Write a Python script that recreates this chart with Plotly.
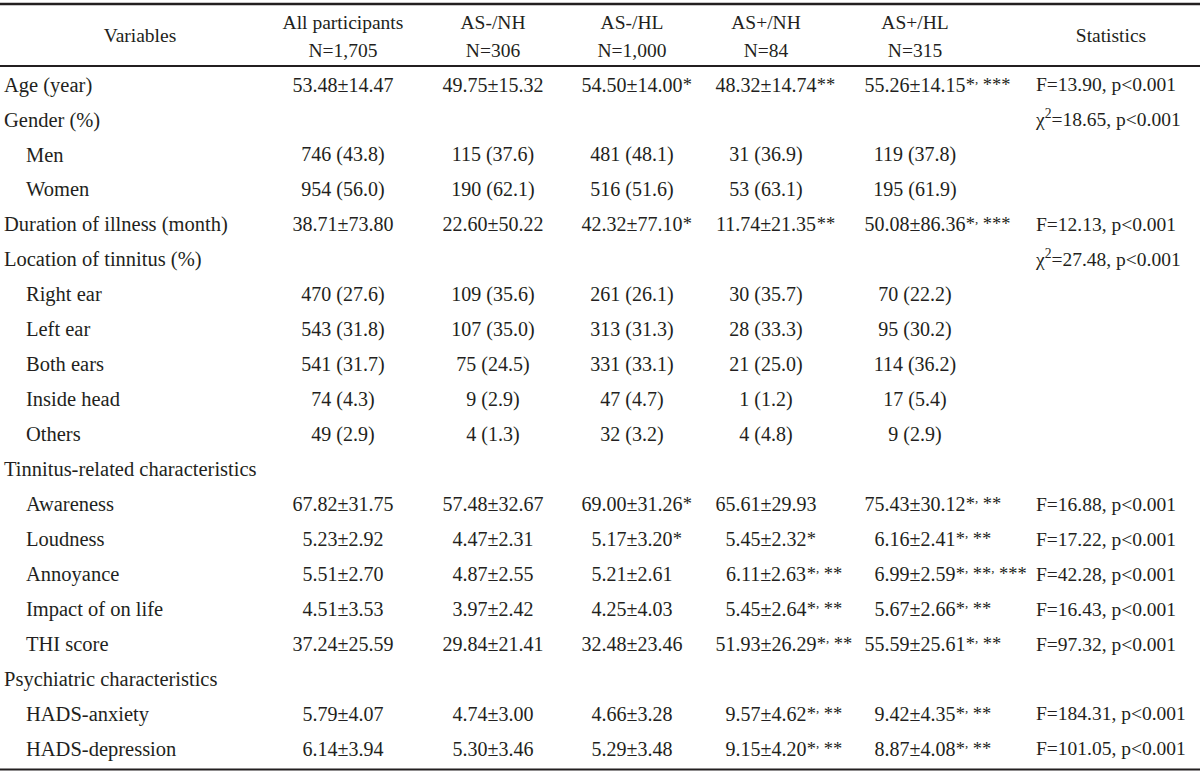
import plotly.graph_objects as go

# ---------------- data ----------------
variables = ["Age (year)", "Gender (%)", "Men", "Women", "Duration of illness (month)",
             "Location of tinnitus (%)", "Right ear", "Left ear", "Both ears", "Inside head",
             "Others", "Tinnitus-related characteristics", "Awareness", "Loudness",
             "Annoyance", "Impact of on life", "THI score", "Psychiatric characteristics",
             "HADS-anxiety", "HADS-depression"]
indent = [0, 0, 1, 1, 0, 0, 1, 1, 1, 1, 1, 0, 1, 1, 1, 1, 1, 0, 1, 1]

header_names = ["All participants", "AS-/NH", "AS-/HL", "AS+/NH", "AS+/HL"]
header_ns = ["N=1,705", "N=306", "N=1,000", "N=84", "N=315"]

all_participants = ["53.48±14.47", "", "746 (43.8)", "954 (56.0)", "38.71±73.80", "",
                    "470 (27.6)", "543 (31.8)", "541 (31.7)", "74 (4.3)", "49 (2.9)", "",
                    "67.82±31.75", "5.23±2.92", "5.51±2.70", "4.51±3.53", "37.24±25.59", "",
                    "5.79±4.07", "6.14±3.94"]
as_neg_nh = ["49.75±15.32", "", "115 (37.6)", "190 (62.1)", "22.60±50.22", "",
             "109 (35.6)", "107 (35.0)", "75 (24.5)", "9 (2.9)", "4 (1.3)", "",
             "57.48±32.67", "4.47±2.31", "4.87±2.55", "3.97±2.42", "29.84±21.41", "",
             "4.74±3.00", "5.30±3.46"]
as_neg_hl = ["54.50±14.00", "", "481 (48.1)", "516 (51.6)", "42.32±77.10", "",
             "261 (26.1)", "313 (31.3)", "331 (33.1)", "47 (4.7)", "32 (3.2)", "",
             "69.00±31.26", "5.17±3.20", "5.21±2.61", "4.25±4.03", "32.48±23.46", "",
             "4.66±3.28", "5.29±3.48"]
as_neg_hl_sig = ["*", "", "", "", "*", "", "", "", "", "", "", "",
                 "*", "*", "", "", "", "", "", ""]
as_pos_nh = ["48.32±14.74", "", "31 (36.9)", "53 (63.1)", "11.74±21.35", "",
             "30 (35.7)", "28 (33.3)", "21 (25.0)", "1 (1.2)", "4 (4.8)", "",
             "65.61±29.93", "5.45±2.32", "6.11±2.63", "5.45±2.64", "51.93±26.29", "",
             "9.57±4.62", "9.15±4.20"]
as_pos_nh_sig = ["**", "", "", "", "**", "", "", "", "", "", "", "",
                 "", "*", "*, **", "*, **", "*, **", "", "*, **", "*, **"]
as_pos_hl = ["55.26±14.15", "", "119 (37.8)", "195 (61.9)", "50.08±86.36", "",
             "70 (22.2)", "95 (30.2)", "114 (36.2)", "17 (5.4)", "9 (2.9)", "",
             "75.43±30.12", "6.16±2.41", "6.99±2.59", "5.67±2.66", "55.59±25.61", "",
             "9.42±4.35", "8.87±4.08"]
as_pos_hl_sig = ["*, ***", "", "", "", "*, ***", "", "", "", "", "", "", "",
                 "*, **", "*, **", "*, **, ***", "*, **", "*, **", "", "*, **", "*, **"]
statistics = ["F=13.90, p<0.001", "χ<sup>2</sup>=18.65, p<0.001", "", "", "F=12.13, p<0.001",
              "χ<sup>2</sup>=27.48, p<0.001", "", "", "", "", "", "",
              "F=16.88, p<0.001", "F=17.22, p<0.001", "F=42.28, p<0.001", "F=16.43, p<0.001",
              "F=97.32, p<0.001", "", "F=184.31, p<0.001", "F=101.05, p<0.001"]

# ---------------- layout / style ----------------
W, H = 1200, 774
FONT = "Liberation Serif"
FS_LABEL = 20.5
FS_HEAD = 19.5
FS_VAL = 20
FS_SIG = 18.5
FS_STAT = 19.5
INK = "#231f20"
row_y0, row_dy = 86.5, 34.95
col_x = [343, 493, 632, 766, 915]
var_header_x = 140
stat_x = 1036
stat_header_x = 1111
label_x = [4, 26]

row_y = [row_y0 + i * row_dy for i in range(len(variables))]

# approximate advance widths (em) for right-hanging significance marks
CW = {".": 0.25, "±": 0.564, " ": 0.25, "(": 0.333, ")": 0.333}


def text_w(s):
    return sum(CW.get(c, 0.5) for c in s) * FS_VAL


def fmt_sig(s):
    return s.replace(",", "<sup>,</sup>")


fig = go.Figure()


def add_text(x, y, text, pos, size):
    fig.add_trace(go.Scatter(x=x, y=y, text=text, mode="text", textposition=pos,
                             textfont=dict(family=FONT, size=size, color=INK),
                             hoverinfo="skip", showlegend=False, cliponaxis=False))


# header
add_text([var_header_x], [37], ["Variables"], "middle center", FS_HEAD)
add_text(col_x, [24] * 5, header_names, "middle center", FS_HEAD)
add_text(col_x, [52] * 5, header_ns, "middle center", FS_HEAD)
add_text([stat_header_x], [37], ["Statistics"], "middle center", FS_HEAD)

# row labels
add_text([label_x[k] for k in indent], row_y, variables, "middle right", FS_LABEL)

# value columns
columns = [(all_participants, None), (as_neg_nh, None), (as_neg_hl, as_neg_hl_sig),
           (as_pos_nh, as_pos_nh_sig), (as_pos_hl, as_pos_hl_sig)]
for cx, (vals, sigs) in zip(col_x, columns):
    xs = [cx for v in vals if v]
    ys = [y for v, y in zip(vals, row_y) if v]
    add_text(xs, ys, [v for v in vals if v], "middle center", FS_VAL)
    if sigs:
        sx = [cx + text_w(v) / 2 for v, s in zip(vals, sigs) if s]
        sy = [y - 0.5 for s, y in zip(sigs, row_y) if s]
        add_text(sx, sy, [fmt_sig(s) for s in sigs if s], "middle right", FS_SIG)

# statistics
add_text([stat_x for s in statistics if s], [y for s, y in zip(statistics, row_y) if s],
         [s for s in statistics if s], "middle right", FS_STAT)

# rules
for y, w in [(4, 2.5), (66, 2), (769.5, 2)]:
    fig.add_shape(type="line", xref="x", yref="y", x0=0, x1=W, y0=y, y1=y,
                  line=dict(color=INK, width=w))

fig.update_layout(width=W, height=H, margin=dict(l=0, r=0, t=0, b=0),
                  paper_bgcolor="white", plot_bgcolor="white",
                  xaxis=dict(range=[0, W], visible=False, fixedrange=True),
                  yaxis=dict(range=[H, 0], visible=False, fixedrange=True))

fig.write_html("out.html", config={"displayModeBar": False},
               post_script="document.body.style.margin='0';document.body.style.overflow='hidden';")
